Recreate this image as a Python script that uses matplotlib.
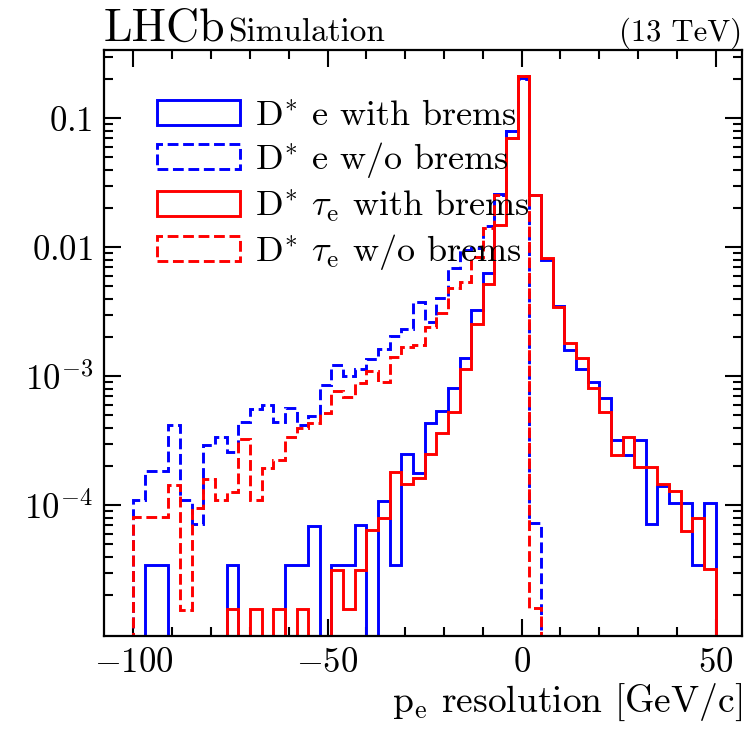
import matplotlib
matplotlib.use("Agg")
import matplotlib.pyplot as plt
import numpy as np

plt.rcParams['font.family'] = ['cmr10', 'DejaVu Serif']
plt.rcParams['mathtext.fontset'] = 'cm'
plt.rcParams['axes.formatter.use_mathtext'] = True
plt.rcParams['axes.unicode_minus'] = False

# bin edges [GeV/c]
bin_edges = list(range(-100, 51, 3))

# D* e with brems (blue solid)
e_brem = [0, 3.45e-5, 3.45e-5, 0, 0, 0, 0, 0, 3.45e-5, 0,
          0, 0, 0, 3.45e-5, 3.45e-5, 6.9e-5, 0, 3.44e-5, 3.44e-5, 7.0e-5,
          0, 1.07e-4, 3.44e-5, 2.5e-4, 1.79e-4, 4.31e-4, 5.38e-4, 8.07e-4, 1.39e-3, 3.27e-3,
          6.28e-3, 0.0258, 0.080, 0.205, 0.0256, 0.0080, 3.5e-3, 1.6e-3, 1.14e-3, 8.97e-4,
          6.83e-4, 3.2e-4, 2.45e-4, 3.2e-4, 7.1e-5, 1.42e-4, 1.05e-4, 1.05e-4, 3.43e-5, 1.05e-4]

# D* e w/o brems (blue dashed)
e_nobrem = [1.09e-4, 1.85e-4, 1.85e-4, 4.18e-4, 1.1e-4, 7.2e-5, 2.93e-4, 3.37e-4, 2.6e-4, 4.44e-4,
            5.55e-4, 6.0e-4, 4.44e-4, 5.65e-4, 4.18e-4, 4.92e-4, 8.57e-4, 1.22e-3, 1.0e-3, 1.13e-3,
            1.36e-3, 1.62e-3, 2.05e-3, 2.31e-3, 3.78e-3, 2.65e-3, 4.02e-3, 6.87e-3, 9.6e-3, 9.8e-3,
            0.0145, 0.0254, 0.080, 0.200, 7.3e-5, 0, 0, 0, 0, 0,
            0, 0, 0, 0, 0, 0, 0, 0, 0, 0]

# D* tau_e with brems (red solid)
tau_brem = [0, 0, 0, 0, 0, 0, 0, 0, 1.58e-5, 0,
            1.58e-5, 0, 1.58e-5, 0, 1.58e-5, 0, 0, 3.15e-5, 1.58e-5, 3.15e-5,
            6.45e-5, 8.0e-5, 1.82e-4, 1.46e-4, 1.62e-4, 2.5e-4, 3.61e-4, 5.26e-4, 1.13e-3, 2.54e-3,
            5.2e-3, 0.0149, 0.070, 0.214, 0.0256, 0.0083, 3.47e-3, 1.8e-3, 1.38e-3, 8.07e-4,
            5.32e-4, 2.45e-4, 3.4e-4, 1.97e-4, 1.97e-4, 1.46e-4, 1.29e-4, 6.3e-5, 8.0e-5, 3.2e-5]

# D* tau_e w/o brems (red dashed)
tau_nobrem = [8.07e-5, 8.07e-5, 8.07e-5, 1.44e-4, 1.55e-5, 9.5e-5, 1.6e-4, 1.1e-4, 1.27e-4, 3.25e-4,
              1.1e-4, 1.93e-4, 2.24e-4, 3.4e-4, 4.0e-4, 4.32e-4, 5.16e-4, 7.69e-4, 6.95e-4, 8.83e-4,
              1.09e-3, 9.08e-4, 1.42e-3, 1.69e-3, 1.75e-3, 2.43e-3, 3.11e-3, 4.81e-3, 5.41e-3, 8.45e-3,
              0.014, 0.0254, 0.070, 0.214, 1.6e-5, 0, 0, 0, 0, 0,
              0, 0, 0, 0, 0, 0, 0, 0, 0, 0]

labels = [r'D$^{*}$ e with brems', r'D$^{*}$ e w/o brems',
          r'D$^{*}$ $\tau_{\rm e}$ with brems', r'D$^{*}$ $\tau_{\rm e}$ w/o brems']

edges = np.array(bin_edges, dtype=float)
centers = 0.5 * (edges[:-1] + edges[1:])

fig = plt.figure(figsize=(7.46, 7.35), dpi=100)
ax = fig.add_axes([104/746, 1-636/735, (741.7-104)/746, (636-50)/735])

series = [(e_brem, 'blue', '-'), (e_nobrem, 'blue', '--'),
          (tau_brem, 'red', '-'), (tau_nobrem, 'red', '--')]
for (vals, col, ls), lab in zip(series, labels):
    ax.hist(centers, bins=edges, weights=vals, histtype='step', color=col,
            linestyle=ls, linewidth=2.1, label=lab)

ax.set_yscale('log', nonpositive='clip')
ax.set_xlim(-107.6, 56.7)
ax.set_ylim(9.7e-6, 0.338)

ax.set_xticks([-100, -50, 0, 50])
ax.set_xticklabels([r'$-100$', r'$-50$', r'$0$', r'$50$'])
ax.set_xticks(np.arange(-100, 51, 10), minor=True)
ax.set_yticks([1e-4, 1e-3, 1e-2, 1e-1])
ax.set_yticklabels([r'$10^{-4}$', r'$10^{-3}$', r'$0.01$', r'$0.1$'])
ax.yaxis.set_minor_locator(matplotlib.ticker.LogLocator(base=10, subs=np.arange(2, 10), numticks=20))
ax.yaxis.set_minor_formatter(matplotlib.ticker.NullFormatter())

ax.tick_params(which='both', direction='in', top=True, right=True, width=1.5, labelsize=25)
ax.tick_params(which='major', length=12.5, pad=8)
ax.tick_params(which='minor', length=6.5)
for sp in ax.spines.values():
    sp.set_linewidth(1.6)

ax.set_xlabel(r'p$_{\rm e}$ resolution [GeV/c]', fontsize=27, loc='right', labelpad=2)

ax.legend(loc='upper left', bbox_to_anchor=(0.083, 0.915), frameon=False, fontsize=26,
          handlelength=2.3, handleheight=0.7, handletextpad=0.42, labelspacing=0.22,
          borderpad=0, borderaxespad=0)

ax.text(0.0, 1.015, 'LHCb', transform=ax.transAxes, fontsize=33, ha='left', va='baseline')
ax.text(0.194, 1.015, 'Simulation', transform=ax.transAxes, fontsize=24, ha='left', va='baseline')
ax.text(1.0, 1.015, '(13 TeV)', transform=ax.transAxes, fontsize=22, ha='right', va='baseline')

fig.savefig('out.png', dpi=100)
